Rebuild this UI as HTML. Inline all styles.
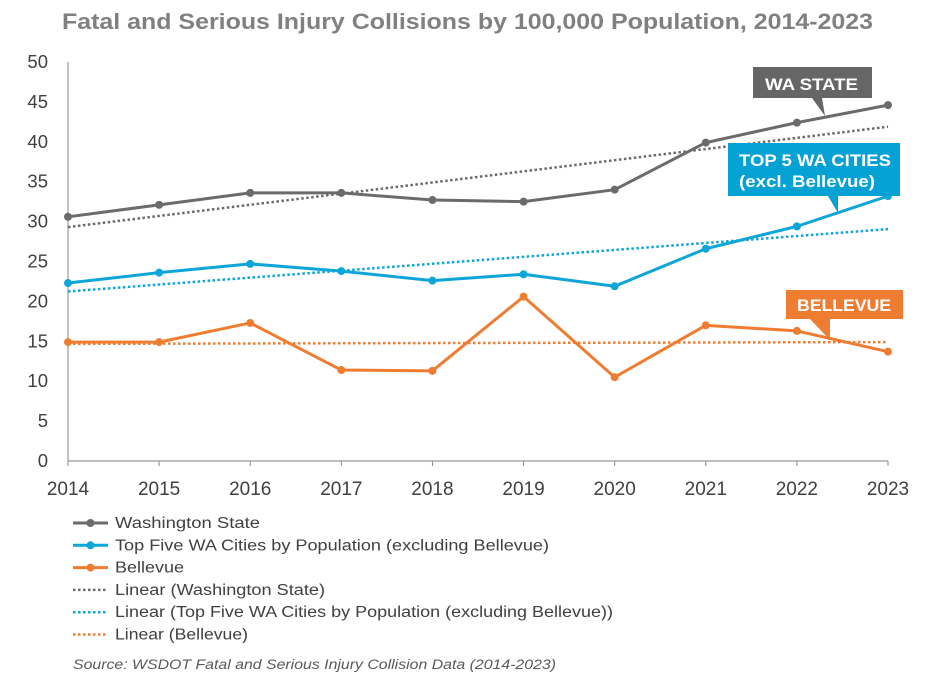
<!DOCTYPE html>
<html><head><meta charset="utf-8"><style>
body{margin:0;background:#fff;width:944px;height:689px;overflow:hidden;font-family:"Liberation Sans",sans-serif}
svg text{font-family:"Liberation Sans",sans-serif}
</style></head><body>
<svg id="chart" width="944" height="689" xmlns="http://www.w3.org/2000/svg">
<text x="62" y="29" textLength="811" lengthAdjust="spacingAndGlyphs" font-size="22" font-weight="bold" fill="#808080">Fatal and Serious Injury Collisions by 100,000 Population, 2014-2023</text>
<g id="axes"></g>
<g id="series"></g>
<g>
<polygon points="753,67 872,67 872,98 822,98 825,116 812,98 753,98" fill="#666666"/>
<text x="765" y="90" textLength="93" lengthAdjust="spacingAndGlyphs" font-size="17" font-weight="bold" fill="#fff">WA STATE</text>
</g>
<g>
<polygon points="728,143 900,143 900,196 838,196 838,213 828,196 728,196" fill="#04a2d4"/>
<text x="739" y="166" textLength="152" lengthAdjust="spacingAndGlyphs" font-size="17" font-weight="bold" fill="#fff">TOP 5 WA CITIES</text>
<text x="739" y="187" textLength="136" lengthAdjust="spacingAndGlyphs" font-size="17" font-weight="bold" fill="#fff">(excl. Bellevue)</text>
</g>
<g>
<polygon points="786,290 903,290 903,319 830,319 830,340 810,319 786,319" fill="#ef7d31"/>
<text x="797" y="311" textLength="94" lengthAdjust="spacingAndGlyphs" font-size="17" font-weight="bold" fill="#fff">BELLEVUE</text>
</g>
<g id="legend"></g>
<text x="73" y="669" textLength="483" lengthAdjust="spacingAndGlyphs" font-size="13.5" font-style="italic" fill="#595959">Source: WSDOT Fatal and Serious Injury Collision Data (2014-2023)</text>
</svg>
<script>
const years=[2014,2015,2016,2017,2018,2019,2020,2021,2022,2023];
const waState=[30.6,32.1,33.6,33.6,32.7,32.5,34.0,39.9,42.4,44.6];
const top5=[22.3,23.6,24.7,23.8,22.6,23.4,21.9,26.6,29.4,33.2];
const bellevue=[14.9,14.9,17.3,11.4,11.3,20.6,10.5,17.0,16.3,13.7];
const yTicks=[0,5,10,15,20,25,30,35,40,45,50];
const legendLabels=["Washington State","Top Five WA Cities by Population (excluding Bellevue)","Bellevue","Linear (Washington State)","Linear (Top Five WA Cities by Population (excluding Bellevue))","Linear (Bellevue)"];
const legendWidths=[145,434,69,210,498,133];

const NS="http://www.w3.org/2000/svg";
const X0=68,X1=888,Y0=461,Y1=62;
const x=i=>X0+(X1-X0)*i/(years.length-1);
const y=v=>Y0-(Y0-Y1)*v/50;
function mk(t,a,p){const e=document.createElementNS(NS,t);for(const k in a)e.setAttribute(k,a[k]);p.appendChild(e);return e;}
const axes=document.getElementById('axes');
yTicks.forEach(t=>{const e=mk('text',{x:48,y:y(t)+6,'text-anchor':'end','font-size':18.5,fill:'#404040'},axes);e.textContent=t;

});
years.forEach((yr,i)=>{const e=mk('text',{x:x(i),y:495,'text-anchor':'middle','font-size':19,fill:'#404040'},axes);e.textContent=yr;


const tk=mk('line',{x1:x(i),x2:x(i),y1:Y0,y2:Y0+5,stroke:'#888','stroke-width':1},axes);

});
const ya=mk('line',{x1:X0,x2:X0,y1:Y1,y2:Y0,stroke:'#999','stroke-width':1.2},axes);


const xa=mk('line',{x1:X0,x2:X1,y1:Y0,y2:Y0,stroke:'#999','stroke-width':1.2},axes);



const S=document.getElementById('series');
function fit(v){const n=v.length;let sx=0,sy=0,sxy=0,sxx=0;v.forEach((d,i)=>{sx+=i;sy+=d;sxy+=i*d;sxx+=i*i});const b=(n*sxy-sx*sy)/(n*sxx-sx*sx);return[(sy-b*sx)/n,b];}
const defs=[[waState,'#6b6b6b','wa-state'],[top5,'#0ea5d9','top5-cities'],[bellevue,'#ef7d31','bellevue']];
defs.forEach(([v,c,n])=>{const [a,b]=fit(v);
const tl=mk('line',{x1:x(0),y1:y(a),x2:x(v.length-1),y2:y(a+b*(v.length-1)),stroke:c,'stroke-width':2.5,'stroke-dasharray':'2.5 2.5'},S);

});
defs.forEach(([v,c,n])=>{
const p=mk('polyline',{points:v.map((d,i)=>x(i)+','+y(d)).join(' '),fill:'none',stroke:c,'stroke-width':3,'stroke-linejoin':'round'},S);


v.forEach((d,i)=>{const m=mk('circle',{cx:x(i),cy:y(d),r:4,fill:c},S);

});});

const L=document.getElementById('legend');
const lc=['#6b6b6b','#0ea5d9','#ef7d31','#6b6b6b','#0ea5d9','#ef7d31'];
legendLabels.forEach((t,i)=>{const yy=523+i*22.3;
const g=mk('g',{},L);


if(i<3){mk('line',{x1:73,x2:108,y1:yy,y2:yy,stroke:lc[i],'stroke-width':3},g);mk('circle',{cx:90.5,cy:yy,r:4,fill:lc[i]},g);}
else mk('line',{x1:73,x2:108,y1:yy,y2:yy,stroke:lc[i],'stroke-width':2.5,'stroke-dasharray':'2.5 2.5'},g);
const e=mk('text',{x:115,y:yy+5,'font-size':15.5,fill:'#404040',textLength:legendWidths[i],lengthAdjust:'spacingAndGlyphs'},g);e.textContent=t;});
</script>
</body></html>
